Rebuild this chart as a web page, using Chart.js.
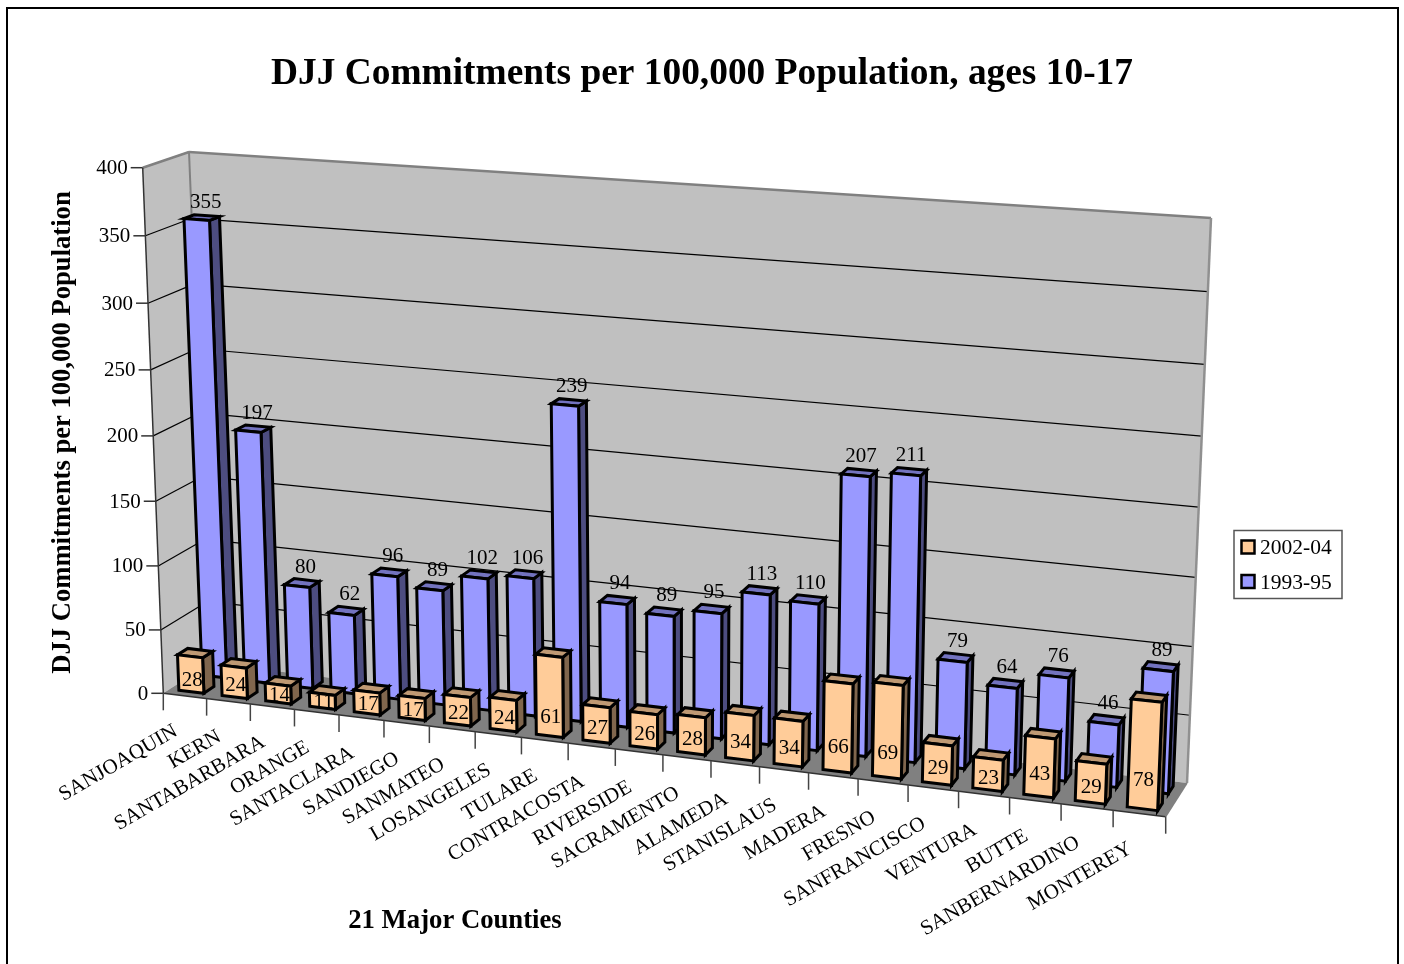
<!DOCTYPE html>
<html>
<head>
<meta charset="utf-8">
<title>DJJ Commitments</title>
<script src="https://cdn.jsdelivr.net/npm/chart.js@4"></script>
<style>
    html, body { margin: 0; padding: 0; background: #fff; }
    canvas { display: block; }
</style>
</head>
<body>
<canvas id="chart" width="1404" height="964"></canvas>
<script>
const counties = ['SANJOAQUIN', 'KERN', 'SANTABARBARA', 'ORANGE', 'SANTACLARA', 'SANDIEGO', 'SANMATEO',
    'LOSANGELES', 'TULARE', 'CONTRACOSTA', 'RIVERSIDE', 'SACRAMENTO', 'ALAMEDA', 'STANISLAUS', 'MADERA',
    'FRESNO', 'SANFRANCISCO', 'VENTURA', 'BUTTE', 'SANBERNARDINO', 'MONTEREY'];
const rate2002 = [28, 24, 14, 11, 17, 17, 22, 24, 61, 27, 26, 28, 34, 34, 66, 69, 29, 23, 43, 29, 78];
const rate1993 = [355, 197, 80, 62, 96, 89, 102, 106, 239, 94, 89, 95, 113, 110, 207, 211, 79, 64, 76, 46, 89];

const SERIF = '"Liberation Serif", serif';

// corners of the 3d box on the page: bl, br, tr, tl
const frontQuad = [[163.3, 693.3], [1165.7, 816.7], [1189.5, 238], [142.7, 167.7]];
const backQuad = [[210, 663], [1187, 783], [1211, 218], [189, 152]];

// depth range of each row, 0 is the front of the floor and 1 the back wall
const rowDepth = [[0.14, 0.36], [0.64, 0.86]];
const barColors = [
    { front: '#FFCC99', side: '#80664D', top: '#BF9973' },
    { front: '#9999FF', side: '#4D4D80', top: '#7373BF' }
];

function project(u, v, depth) {
    const q = frontQuad.map((p, i) => [p[0] + (backQuad[i][0] - p[0]) * depth, p[1] + (backQuad[i][1] - p[1]) * depth]);
    const [[x0, y0], [x1, y1], [x2, y2], [x3, y3]] = q;
    const dx1 = x1 - x2, dx2 = x3 - x2, sx = x0 - x1 + x2 - x3;
    const dy1 = y1 - y2, dy2 = y3 - y2, sy = y0 - y1 + y2 - y3;
    const det = dx1 * dy2 - dx2 * dy1;
    const g = (sx * dy2 - dx2 * sy) / det;
    const h = (dx1 * sy - sx * dy1) / det;
    const w = g * u + h * v + 1;
    return [
        ((x1 - x0 + g * x1) * u + (x3 - x0 + h * x3) * v + x0) / w,
        ((y1 - y0 + g * y1) * u + (y3 - y0 + h * y3) * v + y0) / w
    ];
}

function poly(ctx, pts, fill, stroke, lineWidth) {
    ctx.beginPath();
    pts.forEach((p, i) => i ? ctx.lineTo(p[0], p[1]) : ctx.moveTo(p[0], p[1]));
    ctx.closePath();
    if (fill) { ctx.fillStyle = fill; ctx.fill(); }
    if (stroke) { ctx.strokeStyle = stroke; ctx.lineWidth = lineWidth; ctx.stroke(); }
}

function line(ctx, a, b, color, lineWidth) {
    ctx.beginPath();
    ctx.moveTo(a[0], a[1]);
    ctx.lineTo(b[0], b[1]);
    ctx.strokeStyle = color;
    ctx.lineWidth = lineWidth;
    ctx.stroke();
}

function text(ctx, str, x, y, font, align, angle) {
    ctx.save();
    ctx.translate(x, y);
    if (angle) ctx.rotate(angle);
    ctx.font = font;
    ctx.fillStyle = '#000';
    ctx.textAlign = align || 'center';
    ctx.textBaseline = 'middle';
    ctx.fillText(str, 0, 0);
    ctx.restore();
}

// bar element -> box in unit coordinates of the chart area
function barBox(chart, bar) {
    const area = chart.chartArea;
    const p = bar.getProps(['x', 'y', 'base', 'width'], true);
    return {
        u0: (p.x - p.width / 2 - area.left) / area.width,
        u1: (p.x + p.width / 2 - area.left) / area.width,
        v: (area.bottom - p.y) / area.height
    };
}

function drawBar(ctx, box, depth, colors) {
    const [d0, d1] = depth;
    const { u0, u1, v } = box;
    poly(ctx, [project(u1, 0, d0), project(u1, 0, d1), project(u1, v, d1), project(u1, v, d0)], colors.side, '#000', 3);
    poly(ctx, [project(u0, v, d0), project(u1, v, d0), project(u1, v, d1), project(u0, v, d1)], colors.top, '#000', 3);
    poly(ctx, [project(u0, 0, d0), project(u1, 0, d0), project(u1, v, d0), project(u0, v, d0)], colors.front, '#000', 3);
}

const box3d = {
    id: 'box3d',
    beforeDatasetsDraw(chart) {
        const ctx = chart.ctx, yScale = chart.scales.y, area = chart.chartArea;
        ctx.save();
        ctx.lineJoin = 'miter';

        // page frame
        ctx.strokeStyle = '#000';
        ctx.lineWidth = 2;
        ctx.strokeRect(7, 8, 1391, 1000);

        // walls and floor
        poly(ctx, [project(0, 0, 0), project(0, 1, 0), project(0, 1, 1), project(0, 0, 1)], '#C0C0C0');
        poly(ctx, [project(0, 0, 1), project(0, 1, 1), project(1, 1, 1), project(1, 0, 1)], '#C0C0C0');
        poly(ctx, [project(0, 0, 0), project(1, 0, 0), project(1, 0, 1), project(0, 0, 1)], '#808080');

        yScale.ticks.forEach(tick => {
            const v = (area.bottom - yScale.getPixelForValue(tick.value)) / area.height;
            const a = project(0, v, 0), b = project(0, v, 1), c = project(1, v, 1);
            if (tick.value > 0) {
                line(ctx, a, b, '#000', 1.2);
                if (tick.value < 400) line(ctx, b, c, '#000', 1.2);
            }
            line(ctx, [a[0] - 12, a[1]], a, '#333', 1.5);
            text(ctx, String(tick.value), a[0] - 15, a[1] + 1, '21px ' + SERIF, 'right');
        });

        // wall edges
        line(ctx, project(0, 1, 0), project(0, 1, 1), '#808080', 2.5);
        line(ctx, project(0, 1, 1), project(1, 1, 1), '#808080', 2.5);
        line(ctx, project(0, 1, 1), project(0, 0, 1), '#808080', 2);
        line(ctx, project(1, 1, 1), project(1, 0, 1), '#909090', 2.5);
        line(ctx, project(0, 1, 0), project(0, 0, 0), '#333', 1.5);
        line(ctx, project(0, 0, 0), project(1, 0, 0), '#333', 1.5);
        line(ctx, project(1, 0, 0), project(1, 0, 1), '#808080', 1.5);

        // category ticks and labels
        const n = counties.length;
        for (let i = 0; i <= n; i++) {
            const p = project(i / n, 0, 0);
            line(ctx, p, [p[0], p[1] + 17], '#444', 1.5);
        }
        counties.forEach((name, i) => {
            const x = chart.scales.x.getPixelForValue(i);
            const p = project((x - area.left) / area.width, 0, 0);
            text(ctx, name, p[0] - 9, p[1] + 34, '21px ' + SERIF, 'right', -30 * Math.PI / 180);
        });

        // axis titles
        text(ctx, 'DJJ Commitments per 100,000 Population', 63, 432.5, 'bold 26.6px ' + SERIF, 'center', -Math.PI / 2);
        text(ctx, '21 Major Counties', 455, 921, 'bold 26.7px ' + SERIF);
        ctx.restore();
    },
    // the bars are drawn in 3d below, not by the library's flat rectangles
    beforeDatasetDraw() {
        return false;
    },
    afterDatasetsDraw(chart) {
        const ctx = chart.ctx;
        ctx.save();
        ctx.lineJoin = 'miter';
        [1, 0].forEach(ds => {
            chart.getDatasetMeta(ds).data.forEach(bar => {
                drawBar(ctx, barBox(chart, bar), rowDepth[ds], barColors[ds]);
            });
        });

        // value labels
        chart.getDatasetMeta(1).data.forEach((bar, i) => {
            const b = barBox(chart, bar);
            const p = project((b.u0 + b.u1) / 2, b.v, rowDepth[1][1]);
            text(ctx, String(rate1993[i]), p[0] - 1, p[1] - 13, '21px ' + SERIF);
        });
        chart.getDatasetMeta(0).data.forEach((bar, i) => {
            const b = barBox(chart, bar);
            const um = (b.u0 + b.u1) / 2;
            const p = project(um, 0, rowDepth[0][0]);
            const lift = Math.min(11 + 18 * um, rate2002[i] * 0.5);
            text(ctx, String(rate2002[i]), p[0] + 1, p[1] - lift, '21px ' + SERIF);
        });

        // legend
        ctx.strokeStyle = '#555';
        ctx.lineWidth = 1.5;
        ctx.strokeRect(1234, 530.5, 108, 68);
        chart.data.datasets.forEach((ds, i) => {
            const y = 547.5 + i * 34.5;
            ctx.fillStyle = ds.backgroundColor;
            ctx.fillRect(1241.5, y - 7, 13, 13);
            ctx.strokeStyle = '#000';
            ctx.lineWidth = 2.5;
            ctx.strokeRect(1241.5, y - 7, 13, 13);
            text(ctx, ds.label, 1260, y + 1, '21.5px ' + SERIF, 'left');
        });
        ctx.restore();
    }
};

new Chart(document.getElementById('chart'), {
    type: 'bar',
    data: {
        labels: counties,
        datasets: [
            { label: '2002-04', data: rate2002, backgroundColor: '#FFCC99' },
            { label: '1993-95', data: rate1993, backgroundColor: '#9999FF' }
        ]
    },
    options: {
        responsive: false,
        animation: false,
        devicePixelRatio: 1,
        datasets: { bar: { grouped: false, barPercentage: 0.58, categoryPercentage: 1 } },
        layout: { padding: 0 },
        scales: {
            x: { display: false },
            y: { display: false, min: 0, max: 400, ticks: { stepSize: 50 } }
        },
        plugins: {
            legend: { display: false },
            tooltip: { enabled: false },
            title: {
                display: true,
                text: 'DJJ Commitments per 100,000 Population, ages 10-17',
                color: '#000',
                font: { family: SERIF, size: 37.4, weight: 'bold' },
                padding: { top: 52, bottom: 10 }
            }
        }
    },
    plugins: [box3d]
});
</script>
</body>
</html>
